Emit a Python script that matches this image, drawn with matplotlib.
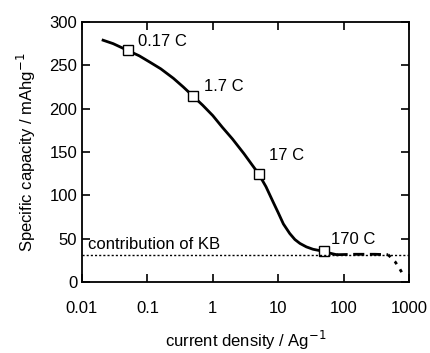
import matplotlib.pyplot as plt
import numpy as np

plt.rcParams['font.family'] = ['Liberation Sans', 'DejaVu Sans']

# main discharge curve (solid)
curve_x = [0.021, 0.03, 0.049, 0.075, 0.11, 0.16, 0.25, 0.354, 0.49, 0.7, 1.0, 1.4, 2.0, 3.0, 4.0, 5.0,
           6.5, 8.4, 10, 12, 15, 18, 21.5, 27, 34, 42, 49, 60, 78]
curve_y = [279, 275, 267.5, 261, 253.5, 246, 235, 225, 215, 204, 192, 178.5, 165, 148, 135, 125,
           110, 92, 80, 67, 56, 49, 44.5, 40.5, 37.8, 36.4, 35.7, 33.5, 31.5]
# dashed plateau and dotted tail
plat_x = [78, 150, 300, 480]
plat_y = [31.5, 32, 32, 31.5]
tail_x = [480, 611, 700, 818]
tail_y = [31.5, 23.5, 17, 8]

# square markers at C-rates
mark_x = [0.05, 0.5, 5, 50]
mark_y = [267.5, 215, 125, 35.7]
mark_lbl = ['0.17 C', '1.7 C', '17 C', '170 C']
kb_level = 31

fig = plt.figure(figsize=(4.3, 3.53), dpi=100)
ax = fig.add_axes([82/430, 1-282/353, 327/430, 260/353])

ax.plot(curve_x, curve_y, color='black', lw=2, solid_joinstyle='round')
ax.plot(plat_x, plat_y, color='black', lw=2, dashes=(4, 2))
ax.plot(tail_x, tail_y, color='black', lw=2, dashes=(1.2, 2.2))
ax.plot(mark_x, mark_y, ls='none', marker='s', ms=7.5, mfc='white', mec='black', mew=1)
ax.axhline(kb_level, color='black', lw=1, ls=(0, (1.5, 1.5)))

offsets = [(1.45, 10), (1.45, 11), (1.45, 21), (1.3, 13)]
for x, y, s, (fx, dy) in zip(mark_x, mark_y, mark_lbl, offsets):
    ax.text(x * fx, y + dy, s, fontsize=12, ha='left', va='center')
ax.text(0.0125, 43, 'contribution of KB', fontsize=12, ha='left', va='center')

ax.set_xscale('log')
ax.set_xlim(0.01, 1000)
ax.set_ylim(0, 300)
ax.set_xticks([0.01, 0.1, 1, 10, 100, 1000])
ax.set_xticklabels(['0.01', '0.1', '1', '10', '100', '1000'])
ax.xaxis.set_minor_locator(plt.NullLocator())
ax.set_yticks([0, 50, 100, 150, 200, 250, 300])
ax.tick_params(direction='in', top=True, right=True, length=6, width=1.2, labelsize=12)
ax.tick_params(axis='x', pad=14)
for sp in ax.spines.values():
    sp.set_linewidth(1.3)

ax.set_xlabel('current density / Ag$^{-1}$', fontsize=12, labelpad=9)
ax.set_ylabel('Specific capacity / mAhg$^{-1}$', fontsize=12, labelpad=8)

fig.savefig('out.png', dpi=100)
